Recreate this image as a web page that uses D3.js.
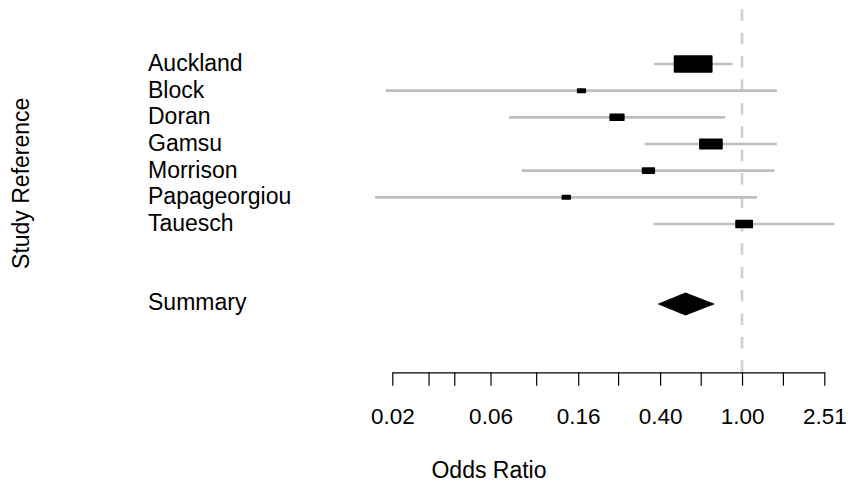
<!DOCTYPE html>
<html>
<head>
<meta charset="utf-8">
<script src="https://cdn.jsdelivr.net/npm/d3@7"></script>
<style>
  html, body { margin: 0; padding: 0; background: #fff; }
  svg { display: block; font-family: "Liberation Sans", Arial, Helvetica, sans-serif; }
</style>
</head>
<body>
<svg id="chart" width="848" height="487"></svg>
<script>
// Study-level odds ratios with 95% confidence limits
const studies = ["Auckland", "Block", "Doran", "Gamsu", "Morrison", "Papageorgiou", "Tauesch"];
const oddsRatio = [0.579, 0.166, 0.247, 0.706, 0.351, 0.140, 1.024];
const lowerCI   = [0.374, 0.0186, 0.0738, 0.336, 0.0851, 0.0165, 0.371];
const upperCI   = [0.899, 1.476, 0.828, 1.476, 1.437, 1.181, 2.813];

// Pooled estimate
const summaryLabel = "Summary";
const summaryOR = 0.531;
const summaryLower = 0.388;
const summaryUpper = 0.740;

// Axis ticks (log scale) and the ones that carry a label
const tickValues = [0.02, 0.03, 0.04, 0.06, 0.10, 0.16, 0.25, 0.40, 0.63, 1.00, 1.58, 2.51];
const tickLabels = [0.02, 0.06, 0.16, 0.40, 1.00, 2.51];

const svg = d3.select("#chart");
const fontSize = 23;
const tickFontSize = 22.5;

const x = d3.scaleLog().domain([0.02, 2.51]).range([392.3, 824.3]);
const y = d3.scaleLinear().domain([0, 9]).range([64, 304]);
const axisY = 372.3;

// reference line at OR = 1
svg.append("line")
  .attr("x1", x(1)).attr("x2", x(1))
  .attr("y1", 9.3).attr("y2", axisY)
  .attr("stroke", "#cfcfcf")
  .attr("stroke-width", 2.6)
  .attr("stroke-dasharray", "11.5,11.9");

// confidence interval lines
svg.append("g").selectAll("line")
  .data(studies)
  .join("line")
  .attr("x1", (d, i) => x(lowerCI[i]))
  .attr("x2", (d, i) => x(upperCI[i]))
  .attr("y1", (d, i) => y(i))
  .attr("y2", (d, i) => y(i))
  .attr("stroke", "#bebebe")
  .attr("stroke-width", 2.6);

// boxes sized by precision (inverse of the CI width on the log scale)
const se = studies.map((d, i) => (Math.log(upperCI[i]) - Math.log(lowerCI[i])) / (2 * 1.96));
const minSe = d3.min(se);
const boxW = i => 37 * minSe / se[i];
const boxH = i => 15.6 * minSe / se[i];

svg.append("g").selectAll("rect")
  .data(studies)
  .join("rect")
  .attr("x", (d, i) => x(oddsRatio[i]) - boxW(i) / 2)
  .attr("y", (d, i) => y(i) - boxH(i) / 2)
  .attr("width", (d, i) => boxW(i))
  .attr("height", (d, i) => boxH(i))
  .attr("fill", "#000")
  .attr("stroke", "#000")
  .attr("stroke-width", 1.8)
  .attr("stroke-linejoin", "round");

// summary diamond
const sy = y(9);
const dh = 11.5;
svg.append("path")
  .attr("d", `M${x(summaryLower)},${sy}L${x(summaryOR)},${sy - dh}L${x(summaryUpper)},${sy}L${x(summaryOR)},${sy + dh}Z`)
  .attr("fill", "#000");

// study labels
const labelG = svg.append("g").attr("font-size", fontSize).attr("fill", "#000");
labelG.selectAll("text")
  .data(studies)
  .join("text")
  .attr("x", 148)
  .attr("y", (d, i) => y(i) + 7)
  .text(d => d);
labelG.append("text")
  .attr("x", 148)
  .attr("y", sy + 6)
  .text(summaryLabel);

// x axis
const axis = d3.axisBottom(x)
  .tickValues(tickValues)
  .tickSizeInner(13.4)
  .tickSizeOuter(0)
  .tickPadding(22.3)
  .tickFormat(v => tickLabels.some(t => Math.abs(t - v) < 1e-9) ? d3.format(".2f")(v) : "");

const gAxis = svg.append("g")
  .attr("transform", `translate(0,${axisY})`)
  .call(axis);
gAxis.select(".domain").attr("stroke", "#000").attr("stroke-width", 1.2);
gAxis.selectAll(".tick line").attr("stroke", "#000").attr("stroke-width", 1.2);
gAxis.selectAll(".tick text")
  .attr("font-size", tickFontSize)
  .attr("font-family", "Liberation Sans, Arial, Helvetica, sans-serif")
  .attr("fill", "#000");

// axis titles
svg.append("text")
  .attr("x", 489)
  .attr("y", 478)
  .attr("text-anchor", "middle")
  .attr("font-size", fontSize)
  .text("Odds Ratio");

svg.append("text")
  .attr("transform", "translate(28.5,183.3) rotate(-90)")
  .attr("text-anchor", "middle")
  .attr("font-size", fontSize)
  .text("Study Reference");
</script>
</body>
</html>
